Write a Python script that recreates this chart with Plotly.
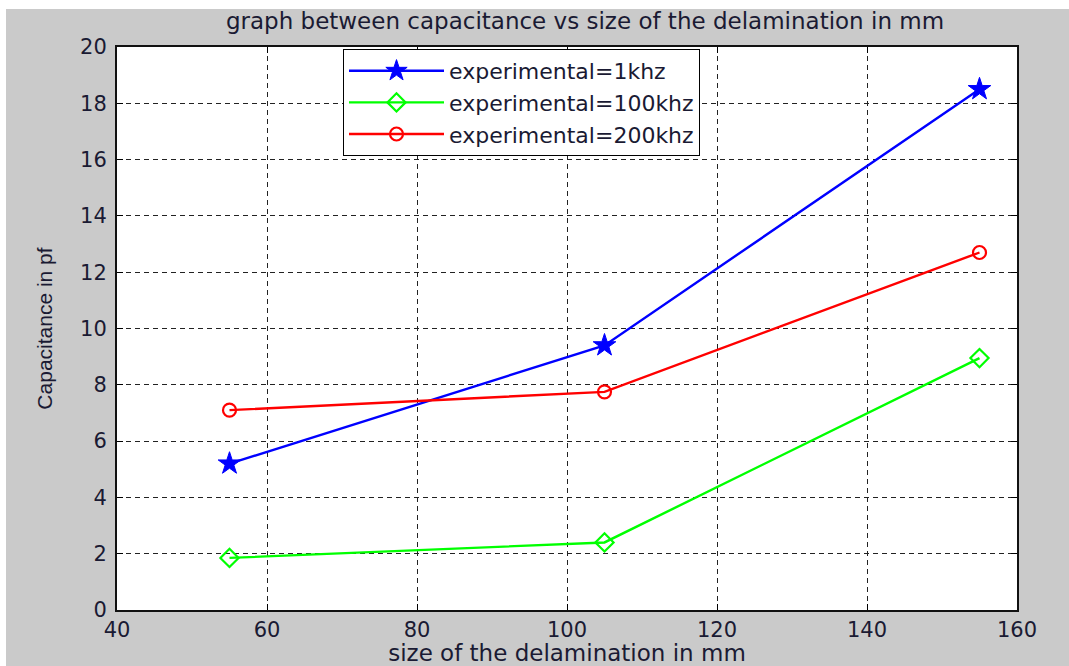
import plotly.graph_objects as go

sizes = [55, 105, 155]
cap_1khz = [5.2, 9.4, 18.5]
cap_100khz = [1.85, 2.4, 8.95]
cap_200khz = [7.1, 7.75, 12.7]
x_ticks = [40, 60, 80, 100, 120, 140, 160]
y_ticks = [0, 2, 4, 6, 8, 10, 12, 14, 16, 18, 20]

W, H = 1069, 666
L, R, T, B = 117, 52, 47, 56
pw, ph = W - L - R, H - T - B

font_wide = "DejaVu Sans, Verdana, sans-serif"
font_main = "Liberation Sans, Arial, sans-serif"
txt = "#1a1a33"

fig = go.Figure()
fig.add_trace(go.Scatter(x=sizes, y=cap_1khz, mode="lines+markers", name="experimental=1khz",
                         line=dict(color="#0000ff", width=2.4),
                         marker=dict(symbol="star", size=17, color="#0000ff",
                                     line=dict(color="#0000ff", width=1))))
fig.add_trace(go.Scatter(x=sizes, y=cap_100khz, mode="lines+markers", name="experimental=100khz",
                         line=dict(color="#00ff00", width=2.4),
                         marker=dict(symbol="diamond-open", size=14, color="#00ff00",
                                     line=dict(color="#00ff00", width=2.2))))
fig.add_trace(go.Scatter(x=sizes, y=cap_200khz, mode="lines+markers", name="experimental=200khz",
                         line=dict(color="#ff0000", width=2.4),
                         marker=dict(symbol="circle-open", size=13, color="#ff0000",
                                     line=dict(color="#ff0000", width=2.2))))

axis_common = dict(showline=True, linecolor="#111111", linewidth=2, mirror="ticks",
                   ticks="inside", ticklen=6, tickcolor="#000000", tickwidth=1.2,
                   showgrid=True, gridcolor="#222222", gridwidth=1, griddash="5px,4px",
                   zeroline=False, automargin=False,
                   tickfont=dict(family=font_wide, size=21, color=txt))

fig.update_xaxes(range=[40, 160], tickvals=x_ticks, ticktext=[str(v) for v in x_ticks],
                 ticklabelstandoff=0,
                 title=dict(text="size of the delamination in mm", standoff=8,
                            font=dict(family=font_wide, size=23, color=txt)),
                 **axis_common)
fig.update_yaxes(range=[0, 20], tickvals=y_ticks, ticktext=[str(v) for v in y_ticks],
                 ticklabelstandoff=4,
                 title=dict(text="Capacitance in pf", standoff=22,
                            font=dict(family=font_main, size=21, color=txt)),
                 **axis_common)

fig.update_layout(
    width=W, height=H,
    margin=dict(l=L, r=R, t=T, b=B, pad=0),
    paper_bgcolor="#cacaca", plot_bgcolor="#ffffff",
    title=dict(text="graph between capacitance vs size of the delamination in mm",
               x=585 / W, xanchor="center", y=1 - 21 / H, yanchor="middle",
               font=dict(family=font_wide, size=23, color=txt)),
    showlegend=True,
    legend=dict(x=(343 - L) / pw, y=(H - B - 49) / ph, xanchor="left", yanchor="top",
                bgcolor="#ffffff", bordercolor="#000000", borderwidth=1,
                font=dict(family=font_wide, size=22, color=txt),
                itemwidth=95, tracegroupgap=0),
    shapes=[
        dict(type="rect", xref="paper", yref="paper", layer="below",
             x0=-L / pw, x1=(W - L) / pw, y0=(H - B) / ph, y1=(H - B - 9) / ph,
             fillcolor="#ffffff", line=dict(width=0)),
        dict(type="rect", xref="paper", yref="paper", layer="below",
             x0=-L / pw, x1=(6 - L) / pw, y0=-B / ph, y1=(H - B) / ph,
             fillcolor="#ffffff", line=dict(width=0)),
    ],
)

fig.write_html("out.html")
